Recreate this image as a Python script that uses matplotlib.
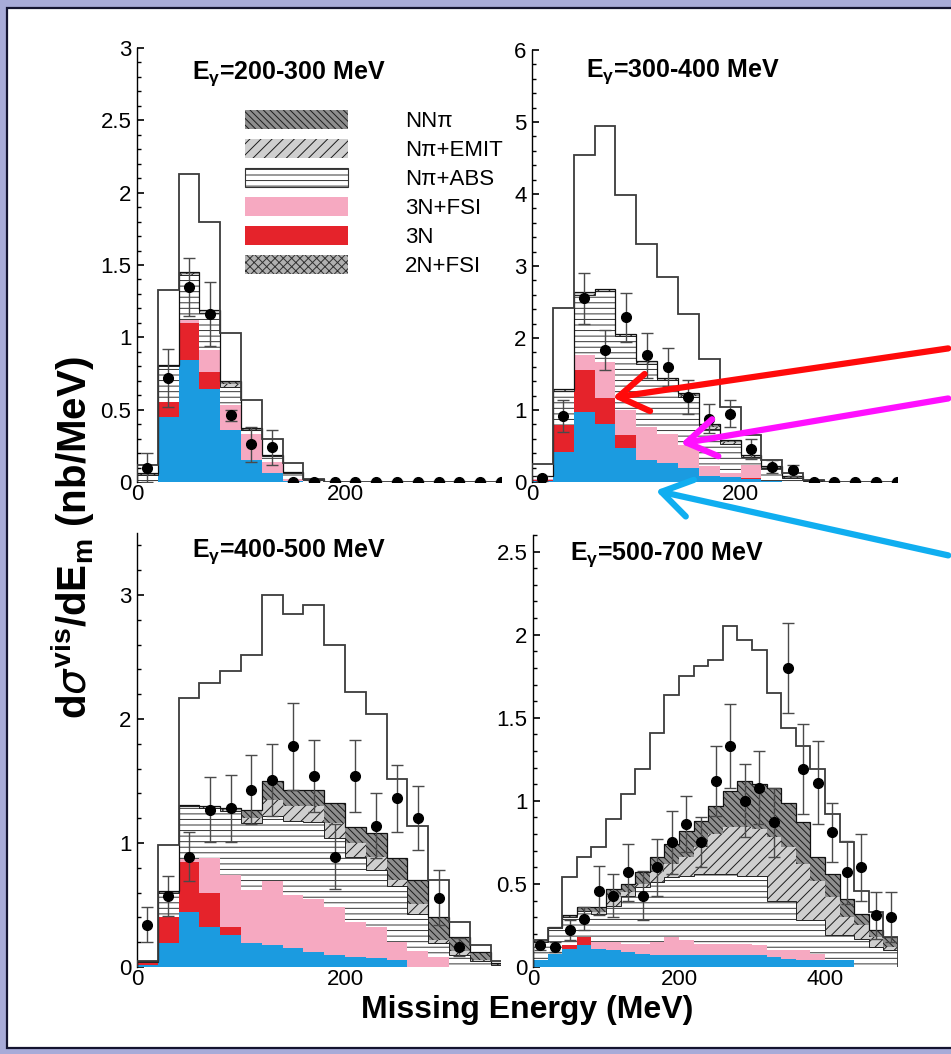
import numpy as np
import matplotlib
matplotlib.use("Agg")
import matplotlib.pyplot as plt
from matplotlib.patches import Patch, Rectangle, FancyArrowPatch
from matplotlib.ticker import MultipleLocator, FuncFormatter

plt.rcParams['font.family'] = ['Liberation Sans', 'DejaVu Sans']
plt.rcParams['mathtext.fontset'] = 'custom'
plt.rcParams['mathtext.rm'] = 'Liberation Sans'
plt.rcParams['mathtext.bf'] = 'Liberation Sans:bold'
plt.rcParams['hatch.linewidth'] = 0.7

# ---- data (cumulative stack tops, nb/MeV), 20 MeV bins ----
# E_gamma = 200-300 MeV
p1_blue = [0.00, 0.45, 0.84, 0.64, 0.36, 0.15, 0.06, 0.01, 0, 0, 0, 0, 0, 0, 0, 0, 0, 0]
p1_red = [0.00, 0.55, 1.10, 0.76, 0.36, 0.15, 0.06, 0.01, 0, 0, 0, 0, 0, 0, 0, 0, 0, 0]
p1_pink = [0.00, 0.55, 1.12, 0.91, 0.53, 0.33, 0.14, 0.02, 0, 0, 0, 0, 0, 0, 0, 0, 0, 0]
p1_abs = [0.05, 0.80, 1.43, 1.17, 0.66, 0.36, 0.18, 0.06, 0.02, 0, 0, 0, 0, 0, 0, 0, 0, 0]
p1_emit = [0.05, 0.80, 1.44, 1.18, 0.68, 0.36, 0.18, 0.06, 0.02, 0, 0, 0, 0, 0, 0, 0, 0, 0]
p1_nnpi = [0.06, 0.81, 1.45, 1.19, 0.70, 0.37, 0.19, 0.07, 0.02, 0, 0, 0, 0, 0, 0, 0, 0, 0]
p1_sim = [0.12, 1.33, 2.13, 1.80, 1.03, 0.57, 0.30, 0.13, 0.02, 0, 0, 0, 0, 0, 0, 0, 0, 0]
p1_y = [0.10, 0.72, 1.35, 1.16, 0.46, 0.26, 0.24, 0, 0, 0, 0, 0, 0, 0, 0, 0, 0, 0]
p1_err = [0.10, 0.20, 0.20, 0.22, 0.04, 0.12, 0.12, 0.01, 0.01, 0.01, 0.01, 0.01, 0.01, 0.01, 0.01, 0.01, 0.01, 0.01]

# E_gamma = 300-400 MeV
p2_blue = [0.02, 0.42, 0.97, 0.81, 0.47, 0.30, 0.26, 0.19, 0.09, 0.07, 0.04, 0.01, 0, 0, 0, 0, 0, 0]
p2_red = [0.03, 0.79, 1.56, 1.17, 0.65, 0.30, 0.26, 0.19, 0.09, 0.07, 0.05, 0.01, 0, 0, 0, 0, 0, 0]
p2_pink = [0.04, 0.79, 1.76, 1.67, 1.00, 0.76, 0.66, 0.51, 0.22, 0.12, 0.24, 0.02, 0, 0, 0, 0, 0, 0]
p2_abs = [0.08, 1.27, 2.60, 2.65, 2.03, 1.64, 1.41, 1.18, 0.74, 0.53, 0.35, 0.19, 0.06, 0.02, 0, 0, 0, 0]
p2_emit = [0.08, 1.28, 2.62, 2.66, 2.04, 1.66, 1.43, 1.20, 0.77, 0.55, 0.36, 0.20, 0.06, 0.02, 0, 0, 0, 0]
p2_nnpi = [0.09, 1.29, 2.64, 2.68, 2.05, 1.68, 1.45, 1.23, 0.81, 0.58, 0.38, 0.22, 0.08, 0.03, 0, 0, 0, 0]
p2_sim = [0.25, 2.41, 4.54, 4.95, 3.98, 3.31, 2.85, 2.34, 1.71, 1.04, 0.65, 0.30, 0.12, 0.03, 0, 0, 0, 0]
p2_y = [0.05, 0.92, 2.55, 1.83, 2.29, 1.76, 1.60, 1.18, 0.88, 0.95, 0.46, 0.21, 0.16, 0, 0, 0, 0, 0]
p2_err = [0.04, 0.22, 0.35, 0.28, 0.34, 0.31, 0.26, 0.23, 0.20, 0.19, 0.14, 0.09, 0.08, 0.01, 0.01, 0.01, 0.01, 0.01]

# E_gamma = 400-500 MeV
p3_blue = [0.02, 0.19, 0.44, 0.32, 0.26, 0.19, 0.18, 0.15, 0.12, 0.10, 0.08, 0.07, 0.06, 0, 0, 0, 0, 0]
p3_red = [0.03, 0.40, 0.85, 0.60, 0.32, 0.19, 0.18, 0.15, 0.12, 0.10, 0.08, 0.07, 0.06, 0, 0, 0, 0, 0]
p3_pink = [0.03, 0.40, 0.87, 0.88, 0.74, 0.62, 0.69, 0.58, 0.55, 0.48, 0.36, 0.32, 0.20, 0.13, 0.08, 0, 0, 0]
p3_abs = [0.04, 0.60, 1.30, 1.28, 1.26, 1.16, 1.22, 1.18, 1.17, 1.04, 0.89, 0.78, 0.65, 0.43, 0.19, 0.10, 0.05, 0.02]
p3_emit = [0.04, 0.60, 1.30, 1.29, 1.27, 1.20, 1.35, 1.30, 1.30, 1.16, 1.00, 0.89, 0.70, 0.51, 0.22, 0.13, 0.06, 0.02]
p3_nnpi = [0.05, 0.61, 1.31, 1.30, 1.28, 1.27, 1.50, 1.43, 1.43, 1.32, 1.13, 1.08, 0.88, 0.70, 0.40, 0.24, 0.12, 0.03]
p3_sim = [0.05, 0.98, 2.17, 2.29, 2.39, 2.52, 3.00, 2.85, 2.92, 2.60, 2.22, 2.04, 1.52, 1.14, 0.70, 0.36, 0.18, 0.05]
p3_y = [0.34, 0.57, 0.89, 1.27, 1.28, 1.43, 1.51, 1.78, 1.54, 0.89, 1.54, 1.14, 1.36, 1.20, 0.56, 0.16, np.nan, np.nan]
p3_err = [0.14, 0.16, 0.20, 0.26, 0.27, 0.28, 0.29, 0.35, 0.29, 0.26, 0.29, 0.26, 0.27, 0.26, 0.22, 0.07, 0, 0]

# E_gamma = 500-700 MeV
p4_blue = [0.04, 0.08, 0.11, 0.13, 0.11, 0.10, 0.09, 0.08, 0.075, 0.075, 0.075, 0.075, 0.07,
           0.07, 0.07, 0.07, 0.06, 0.05, 0.045, 0.045, 0.045, 0.045, 0, 0, 0]
p4_red = [0.04, 0.08, 0.13, 0.18, 0.11, 0.10, 0.09, 0.08, 0.075, 0.075, 0.075, 0.075, 0.07,
          0.07, 0.07, 0.07, 0.06, 0.05, 0.045, 0.045, 0.045, 0.045, 0, 0, 0]
p4_pink = [0.04, 0.08, 0.13, 0.18, 0.15, 0.15, 0.14, 0.14, 0.15, 0.18, 0.16, 0.14, 0.14,
           0.14, 0.14, 0.13, 0.10, 0.10, 0.10, 0.08, 0.045, 0.045, 0, 0, 0]
p4_abs = [0.15, 0.235, 0.30, 0.34, 0.32, 0.37, 0.43, 0.48, 0.51, 0.54, 0.55, 0.56, 0.56,
          0.56, 0.55, 0.55, 0.40, 0.40, 0.28, 0.28, 0.19, 0.19, 0.17, 0.12, 0.10]
p4_emit = [0.15, 0.235, 0.30, 0.34, 0.33, 0.42, 0.45, 0.50, 0.57, 0.62, 0.66, 0.72, 0.80,
           0.84, 0.84, 0.83, 0.78, 0.72, 0.62, 0.52, 0.42, 0.30, 0.25, 0.18, 0.12]
p4_nnpi = [0.16, 0.24, 0.31, 0.36, 0.36, 0.47, 0.50, 0.57, 0.66, 0.74, 0.82, 0.88, 0.97,
           1.06, 1.12, 1.10, 1.08, 0.99, 0.87, 0.66, 0.56, 0.41, 0.32, 0.22, 0.18]
p4_sim = [0.16, 0.235, 0.54, 0.66, 0.72, 0.89, 1.04, 1.19, 1.41, 1.64, 1.75, 1.81, 1.85,
          2.05, 1.97, 1.91, 1.65, 1.44, 1.33, 1.19, 0.92, 0.75, 0.46, 0.33, 0.18]
p4_y = [0.13, 0.12, 0.22, 0.29, 0.46, 0.43, 0.57, 0.43, 0.60, 0.75, 0.86, 0.75, 1.12,
        1.33, 1.00, 1.08, 0.87, 1.80, 1.19, 1.11, 0.81, 0.57, 0.60, 0.31, 0.30]
p4_err = [0.03, 0.03, 0.06, 0.07, 0.15, 0.13, 0.17, 0.15, 0.17, 0.19, 0.17, 0.15, 0.21,
          0.25, 0.22, 0.22, 0.21, 0.27, 0.27, 0.25, 0.18, 0.19, 0.20, 0.14, 0.15]

titles = ['200-300', '300-400', '400-500', '500-700']
legend_labels = ['NNπ', 'Nπ+EMIT', 'Nπ+ABS', '3N+FSI', '3N', '2N+FSI']

C_BLUE = '#1b9be0'
C_RED = '#e5232b'
C_PINK = '#f6a9c1'
NNPI_STYLE = dict(facecolor='#8e8e8e', edgecolor='#1c1c1c', hatch='\\\\\\\\\\')
EMIT_STYLE = dict(facecolor='#cfcfcf', edgecolor='#1c1c1c', hatch='///')
ABS_STYLE = dict(facecolor='white', edgecolor='#333333', hatch='---')

W, H = 951, 1054
fig = plt.figure(figsize=(W / 100, H / 100), dpi=100)
fig.patch.set_facecolor('#a8abd8')
fig.add_artist(Rectangle((7 / W, 6 / H), 1.0, 1040 / H, transform=fig.transFigure,
                         facecolor='white', edgecolor='#141430', lw=1.6, zorder=-5))


def fmt(v, pos):
    return '%g' % v


def panel(rect, blue, red, pink, nabs, emit, nnpi, sim, y, err, xmax, ymax,
          ymaj, ymin, xt, title, tpos):
    ax = fig.add_axes([rect[0] / W, 1 - rect[1] / H, rect[2] / W, rect[3] / H])
    ax.set_facecolor('none')
    n = len(blue)
    lefts = np.arange(n) * 20.0
    edges = np.arange(n + 1) * 20.0
    centers = lefts + 10
    layers = [(blue, dict(facecolor=C_BLUE, edgecolor=C_BLUE)),
              (red, dict(facecolor=C_RED, edgecolor=C_RED)),
              (pink, dict(facecolor=C_PINK, edgecolor=C_PINK)),
              (nabs, ABS_STYLE),
              (emit, EMIT_STYLE),
              (nnpi, NNPI_STYLE)]
    prev = np.zeros(n)
    for top, style in layers:
        top = np.maximum(np.array(top, dtype=float), prev)
        ax.bar(lefts, top - prev, width=20, bottom=prev, align='edge',
               linewidth=0, zorder=2, **style)
        prev = top
    ax.stairs(np.array(nabs), edges, color='#222222', lw=0.7, zorder=3)
    ax.stairs(prev, edges, color='#111111', lw=0.9, zorder=3)
    ax.stairs(np.array(sim), edges, baseline=0, color='#3c3c3c', lw=1.3, zorder=3)
    ax.errorbar(centers, y, yerr=err, fmt='o', ms=7, mfc='black', mec='black',
                ecolor='#4a4a4a', elinewidth=1.0, capsize=4, capthick=1.0, zorder=5)

    ax.set_xlim(0, xmax)
    ax.set_ylim(0, ymax)
    for s in ['top', 'right', 'bottom']:
        ax.spines[s].set_visible(False)
    ax.spines['left'].set_linewidth(1.0)
    ax.yaxis.set_major_locator(MultipleLocator(ymaj))
    ax.yaxis.set_minor_locator(MultipleLocator(ymin))
    ax.yaxis.set_major_formatter(FuncFormatter(fmt))
    ax.tick_params(axis='y', which='major', direction='in', length=5, width=1.2,
                   labelsize=16, pad=4)
    ax.tick_params(axis='y', which='minor', direction='in', length=3, width=1.0)
    ax.set_xticks(xt)
    ax.set_xticklabels([str(v) for v in xt])
    ax.tick_params(axis='x', length=0, labelsize=16, pad=1.5)
    ax.text(tpos[0], tpos[1], r'E$_\mathbf{\gamma}$=' + title + ' MeV', transform=ax.transAxes,
            fontsize=18, fontweight='bold', ha='left', va='center')
    return ax


ax1 = panel((137, 482, 364, 434), p1_blue, p1_red, p1_pink, p1_abs, p1_emit, p1_nnpi,
            p1_sim, p1_y, p1_err, 350, 3.0, 0.5, 0.1, [0, 200], titles[0], (0.151, 0.942))
ax2 = panel((532, 482, 365, 432), p2_blue, p2_red, p2_pink, p2_abs, p2_emit, p2_nnpi,
            p2_sim, p2_y, p2_err, 350, 6.0, 1, 0.2, [0, 200], titles[1], (0.148, 0.95))
ax3 = panel((137, 967, 364, 434), p3_blue, p3_red, p3_pink, p3_abs, p3_emit, p3_nnpi,
            p3_sim, p3_y, p3_err, 350, 3.5, 1, 0.2, [0, 200], titles[2], (0.151, 0.956))
ax4 = panel((533, 967, 365, 432), p4_blue, p4_red, p4_pink, p4_abs, p4_emit, p4_nnpi,
            p4_sim, p4_y, p4_err, 500, 2.6, 0.5, 0.1, [0, 200, 400], titles[3], (0.10, 0.954))

# legend in the first panel
handles = [Patch(lw=0, **NNPI_STYLE),
           Patch(lw=0, **EMIT_STYLE),
           Patch(lw=0.8, **ABS_STYLE),
           Patch(facecolor=C_PINK, lw=0),
           Patch(facecolor=C_RED, lw=0),
           Patch(facecolor='#b0b0b0', edgecolor='#303030', hatch='xxxx', lw=0)]
ax1.legend(handles, legend_labels, loc='upper left', bbox_to_anchor=(0.297, 0.856),
           frameon=False, fontsize=16, handlelength=4.64, handleheight=0.9,
           handletextpad=2.57, labelspacing=0.32, borderpad=0, borderaxespad=0)

fig.text(73 / W, 1 - 538 / H, r'd$\sigma^{\mathbf{vis}}$/dE$_{\mathbf{m}}$ (nb/MeV)',
         rotation=90, ha='center', va='center', fontsize=29, fontweight='bold')
fig.text(527 / W, 1 - 995 / H, 'Missing Energy (MeV)', ha='center', va='top',
         fontsize=23, fontweight='bold')

# annotation arrows
arrows = [((951, 348), (610, 398), '#ff0a0a'),
          ((951, 398), (678, 444), '#ff10ff'),
          ((951, 556), (653, 490), '#10aef0')]
for tail, head, col in arrows:
    fig.add_artist(FancyArrowPatch(
        (tail[0] / W, 1 - tail[1] / H), (head[0] / W, 1 - head[1] / H),
        transform=fig.transFigure, arrowstyle='->,head_length=0.7,head_width=0.45',
        mutation_scale=30, color=col, lw=4.5, zorder=10))

fig.savefig('out.png', dpi=100, facecolor=fig.get_facecolor())
